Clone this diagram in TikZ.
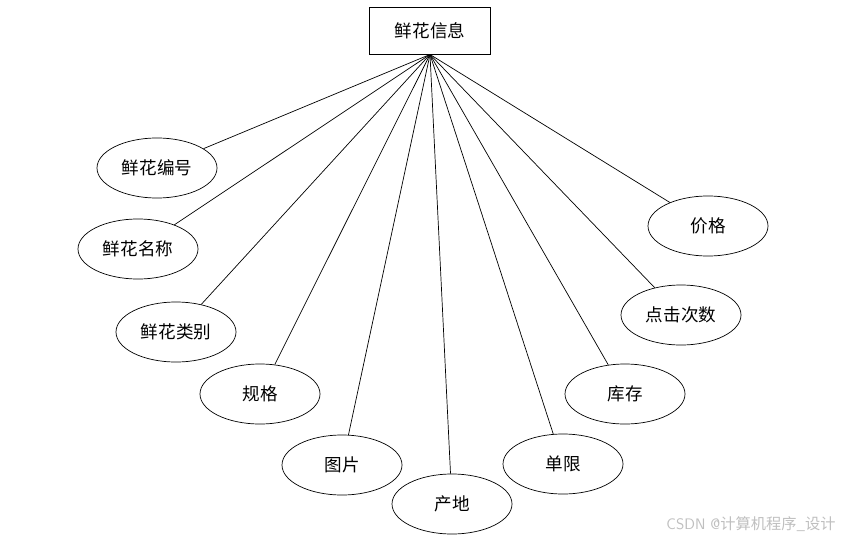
\documentclass[tikz,border=0pt]{standalone}
\usepackage{fontspec}
\newfontfamily\cjk{Noto Sans CJK SC}
\usetikzlibrary{shapes.geometric}

\begin{document}
\begin{tikzpicture}[x=0.03cm,y=-0.03cm,font=\cjk\fontsize{15}{17}\selectfont,line width=0.6pt,
  entity/.style={draw,rectangle,minimum width=3.63cm,minimum height=1.41cm,inner sep=1pt},
  attr/.style={draw,ellipse,minimum width=3.6cm,minimum height=1.8cm,inner sep=1pt}]
\useasboundingbox (0,0) rectangle (851,541);
\node[entity] (info) at (430,30.5) {鲜花信息}; \coordinate (hub) at (430,54.5);
\node[attr] (num) at (157,168) {鲜花编号}; \node[attr] (name) at (138,249) {鲜花名称}; \node[attr] (kind) at (176,332) {鲜花类别};
\node[attr] (spec) at (260,394) {规格}; \node[attr] (pic) at (342,465) {图片}; \node[attr] (origin) at (452,504) {产地};
\node[attr] (limit) at (563,464) {单限}; \node[attr] (stock) at (625,394) {库存}; \node[attr] (clicks) at (681,315) {点击次数};
\node[attr] (price) at (708,226) {价格};
\foreach \a in {num,name,kind,spec,pic,origin,limit,stock,clicks,price} \draw (hub) -- (\a);
\node[text=black!25,font=\sffamily\fontsize{13}{15}\selectfont] (mark) at (751,524) {CSDN @{\cjk 计算机程序\_设计}};
\end{tikzpicture}
\end{document}
